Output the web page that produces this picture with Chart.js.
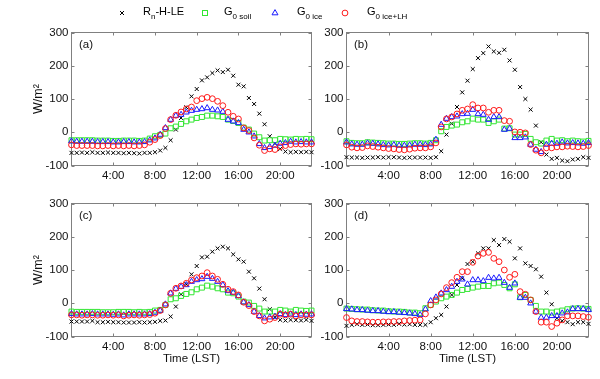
<!DOCTYPE html>
<html><head><meta charset="utf-8">
<script src="https://cdn.jsdelivr.net/npm/chart.js@4/dist/chart.umd.min.js"></script>
<style>
html,body{margin:0;padding:0;background:#fff;}
#wrap{position:relative;width:600px;height:379px;overflow:hidden;font-family:"Liberation Sans",Arial,sans-serif;}
#wrap canvas{position:absolute;left:0;top:0;}
.lt{position:absolute;top:5px;font-size:11px;line-height:13px;color:#000;white-space:nowrap;}
.lt sub{font-size:8px;vertical-align:-4px;line-height:0;}
.lm{position:absolute;top:7px;width:12px;height:12px;}
</style></head>
<body><div id="wrap">
<canvas id="ca" width="600" height="379"></canvas>
<canvas id="cb" width="600" height="379"></canvas>
<canvas id="cc" width="600" height="379"></canvas>
<canvas id="cd" width="600" height="379"></canvas>
<svg class="lm" style="left:116px" viewBox="0 0 12 12"><path d="M4 4L8 8M4 8L8 4" stroke="#000" stroke-width="1" fill="none"/></svg>
<span class="lt" style="left:143px">R<sub>n</sub>-H-LE</span>
<svg class="lm" style="left:199px" viewBox="0 0 12 12"><rect x="3.5" y="3.5" width="5" height="5" stroke="#33e633" stroke-width="1" fill="none"/></svg>
<span class="lt" style="left:224px">G<sub>0 soil</sub></span>
<svg class="lm" style="left:269px" viewBox="0 0 12 12"><polygon points="6,2.6 9,7.8 3,7.8" stroke="#1a1aff" stroke-width="1" fill="none"/></svg>
<span class="lt" style="left:297px">G<sub>0 ice</sub></span>
<svg class="lm" style="left:339px" viewBox="0 0 12 12"><circle cx="6" cy="6" r="2.9" stroke="#ff1a1a" stroke-width="1" fill="none"/></svg>
<span class="lt" style="left:367px">G<sub>0 ice+LH</sub></span>
</div>
<script>
// ---- data ----
const times = [0,0.5,1,1.5,2,2.5,3,3.5,4,4.5,5,5.5,6,6.5,7,7.5,8,8.5,9,9.5,10,10.5,11,11.5,12,12.5,13,13.5,14,14.5,15,15.5,16,16.5,17,17.5,18,18.5,19,19.5,20,20.5,21,21.5,22,22.5,23];
const xTickHours = [4,8,12,16,20];
const yTickValues = [-100,0,100,200,300];
const seriesNames = ['Rn-H-LE','G0 soil','G0 ice','G0 ice+LH'];
const panelLabels = ['(a)','(b)','(c)','(d)'];

const a_rn   = [-62,-62,-61,-62,-60,-62,-62,-61,-62,-62,-63,-62,-63,-64,-62,-62,-60,-55,-47,-24,8,43,75,108,130,156,165,178,186,181,188,170,143,138,103,85,56,24,-12,-34,-50,-58,-60,-59,-60,-59,-60];
const a_soil = [-24,-24,-24,-24,-24,-25,-25,-25,-26,-26,-25,-25,-25,-26,-25,-19,-12,-8,-4,12,17,25,33,38,43,46,50,50,48,46,38,34,28,14,8,-4,-15,-25,-24,-24,-20,-21,-22,-20,-21,-20,-21];
const a_ice  = [-27,-28,-28,-28,-28,-29,-29,-29,-30,-30,-29,-29,-30,-30,-29,-24,-18,-7,13,38,50,53,60,65,68,70,73,68,66,62,38,33,28,8,0,-12,-35,-47,-44,-40,-34,-32,-28,-30,-29,-30,-30];
const a_iceLH= [-38,-40,-40,-40,-40,-41,-41,-40,-41,-40,-41,-40,-41,-40,-38,-30,-22,-10,11,38,51,61,70,76,95,101,105,101,93,80,60,48,40,13,5,-17,-39,-55,-50,-52,-44,-40,-37,-35,-36,-35,-35];

const b_rn   = [-75,-76,-76,-77,-76,-76,-75,-76,-75,-75,-76,-77,-76,-76,-76,-76,-77,-75,-57,-7,26,76,120,155,190,223,238,258,243,239,248,216,188,136,100,68,20,-30,-67,-80,-77,-85,-87,-82,-80,-75,-77];
const b_soil = [-27,-32,-33,-33,-30,-31,-32,-33,-34,-34,-35,-35,-34,-33,-33,-34,-32,-24,3,16,20,23,30,33,41,38,38,28,33,38,11,12,-7,-7,-5,-20,-30,-34,-25,-20,-25,-24,-27,-25,-27,-28,-26];
const b_ice  = [-30,-36,-37,-37,-33,-34,-36,-38,-39,-38,-40,-40,-39,-37,-37,-38,-36,-22,23,41,46,48,55,56,68,55,53,38,46,46,8,11,-17,-17,-15,-37,-52,-59,-37,-34,-34,-30,-33,-32,-33,-34,-32];
const b_iceLH= [-38,-45,-47,-46,-41,-43,-45,-47,-49,-50,-52,-53,-51,-48,-47,-47,-44,-32,16,40,46,55,66,70,83,73,73,60,66,66,35,33,1,0,-2,-37,-54,-62,-47,-47,-44,-44,-42,-43,-44,-43,-40];

const c_rn   = [-55,-55,-55,-55,-53,-57,-57,-56,-57,-57,-58,-58,-58,-57,-58,-57,-56,-53,-52,-40,-10,27,57,87,112,138,140,155,165,170,165,147,132,125,95,75,44,12,-18,-42,-50,-52,-50,-51,-52,-50,-53];
const c_soil = [-25,-26,-26,-26,-26,-26,-27,-27,-27,-26,-26,-26,-27,-26,-27,-26,-22,-20,-5,12,15,22,28,33,42,47,53,50,45,42,32,30,20,5,2,-8,-16,-25,-25,-25,-20,-22,-25,-20,-22,-23,-22];
const c_ice  = [-32,-33,-33,-33,-32,-33,-33,-33,-34,-33,-36,-33,-33,-33,-33,-32,-28,-22,-3,30,44,50,55,65,70,73,80,74,65,55,37,32,22,3,-5,-25,-38,-45,-42,-40,-32,-35,-33,-35,-33,-34,-33];
const c_iceLH= [-35,-35,-36,-35,-35,-36,-36,-35,-36,-35,-38,-36,-35,-36,-35,-34,-30,-22,-5,30,45,52,60,70,77,82,92,82,72,57,42,35,25,3,-7,-25,-38,-53,-48,-43,-33,-35,-33,-38,-35,-35,-35];

const d_rn   = [-68,-65,-63,-65,-64,-66,-66,-65,-64,-65,-62,-64,-63,-65,-65,-65,-57,-45,-35,-10,25,55,75,118,125,150,165,165,190,175,193,185,135,165,120,112,102,80,32,-3,-45,-53,-57,-63,-57,-57,-62];
const d_soil = [-16,-17,-18,-19,-19,-21,-22,-22,-24,-25,-25,-26,-28,-28,-30,-15,-5,5,15,20,25,32,40,43,47,50,52,52,60,62,55,45,57,18,25,10,-8,-25,-25,-28,-25,-22,-18,-16,-15,-16,-17];
const d_ice  = [-17,-18,-20,-20,-22,-23,-23,-25,-26,-26,-28,-29,-30,-32,-35,-18,7,18,30,40,50,65,72,57,70,70,67,77,75,77,62,47,60,17,17,0,-25,-43,-43,-38,-38,-30,-27,-17,-17,-17,-20];
const d_iceLH= [-43,-53,-55,-55,-56,-57,-57,-56,-56,-55,-55,-53,-52,-51,-50,-32,-5,10,28,47,62,78,95,95,123,142,150,153,135,125,100,78,87,35,27,10,-25,-57,-57,-70,-60,-50,-38,-38,-38,-40,-42];

// ---- styling ----
const FONT = '"Liberation Sans", Arial, sans-serif';
Chart.defaults.font.family = FONT;
const axisColor = '#808080';
const txtColor = '#111';
const colors = ['#000000','#33e633','#1a1aff','#ff1a1a'];
const styles = ['crossRot','rect','triangle','circle'];
const radii = [2.8,3.5,3.4,2.9];
const orders = [3,2,1,0];
const tickLen = 3;

const panelPlugin = {
  id: 'panel',
  beforeDatasetsDraw(chart, args, o) {
    const {ctx, chartArea: a, scales: {x, y}} = chart;
    ctx.save();
    ctx.strokeStyle = axisColor;
    ctx.lineWidth = 1;
    ctx.strokeRect(a.left, a.top, a.right - a.left, a.bottom - a.top);
    ctx.beginPath();
    x.ticks.forEach(t => {
      const p = Math.round(x.getPixelForValue(t.value)) + 0.5;
      ctx.moveTo(p, a.bottom); ctx.lineTo(p, a.bottom - tickLen);
      ctx.moveTo(p, a.top); ctx.lineTo(p, a.top + tickLen);
    });
    y.ticks.forEach(t => {
      const p = Math.round(y.getPixelForValue(t.value)) + 0.5;
      ctx.moveTo(a.left, p); ctx.lineTo(a.left + tickLen, p);
      ctx.moveTo(a.right, p); ctx.lineTo(a.right - tickLen, p);
    });
    ctx.stroke();
    ctx.fillStyle = txtColor;
    ctx.font = '11.5px ' + FONT;
    ctx.textBaseline = 'middle';
    ctx.textAlign = 'left';
    ctx.fillText(o.label, a.left + 7.5, a.top + 12.5);
    ctx.restore();
  }
};

function makeChart(id, series, box) {
  const datasets = series.map((arr, k) => ({
    label: seriesNames[k],
    data: times.map((t, i) => ({x: t, y: arr[i]})),
    showLine: false,
    pointStyle: styles[k],
    pointRadius: radii[k],
    pointHoverRadius: radii[k],
    pointBorderColor: colors[k],
    pointBackgroundColor: 'rgba(0,0,0,0)',
    borderColor: colors[k],
    backgroundColor: 'rgba(0,0,0,0)',
    pointBorderWidth: 1,
    order: orders[k],
    clip: false
  }));
  return new Chart(document.getElementById(id), {
    type: 'scatter',
    data: {datasets},
    options: {
      responsive: false,
      animation: false,
      devicePixelRatio: 1,
      events: [],
      layout: {padding: {left: box.left - 40, right: 600 - box.right, top: box.top, bottom: 379 - box.bottom - 30}},
      plugins: {legend: {display: false}, tooltip: {enabled: false}, panel: {label: box.label}},
      scales: {
        x: {
          type: 'linear', min: 0, max: 23,
          afterFit(s) { s.height = 30; },
          afterBuildTicks(s) { s.ticks = xTickHours.map(v => ({value: v})); },
          grid: {display: false, drawTicks: false},
          border: {display: false},
          ticks: {padding: 3, color: txtColor, font: {size: 11.5}, maxRotation: 0, autoSkip: false,
                  callback: v => v + ':00'},
          title: {display: box.xTitle, text: 'Time (LST)', color: txtColor, font: {size: 11.5}, padding: {top: 0, bottom: 1}}
        },
        y: {
          type: 'linear', min: -100, max: 300,
          afterFit(s) { s.width = 40; },
          afterBuildTicks(s) { s.ticks = yTickValues.map(v => ({value: v})); },
          grid: {display: false, drawTicks: false},
          border: {display: false},
          ticks: {padding: 3, color: txtColor, font: {size: 11.5}},
          title: {display: box.yTitle, text: 'W/m²', color: txtColor, font: {size: 12.5}, padding: {top: 0, bottom: 0}}
        }
      }
    },
    plugins: [panelPlugin]
  });
}

makeChart('ca', [a_rn, a_soil, a_ice, a_iceLH], {left: 71.5, right: 311.5, top: 32.5, bottom: 165.5, label: panelLabels[0], xTitle: false, yTitle: true});
makeChart('cb', [b_rn, b_soil, b_ice, b_iceLH], {left: 346.5, right: 588.5, top: 32.5, bottom: 165.5, label: panelLabels[1], xTitle: false, yTitle: false});
makeChart('cc', [c_rn, c_soil, c_ice, c_iceLH], {left: 71.5, right: 311.5, top: 203.5, bottom: 336.5, label: panelLabels[2], xTitle: true, yTitle: true});
makeChart('cd', [d_rn, d_soil, d_ice, d_iceLH], {left: 346.5, right: 588.5, top: 203.5, bottom: 336.5, label: panelLabels[3], xTitle: true, yTitle: false});
</script>
</body></html>
